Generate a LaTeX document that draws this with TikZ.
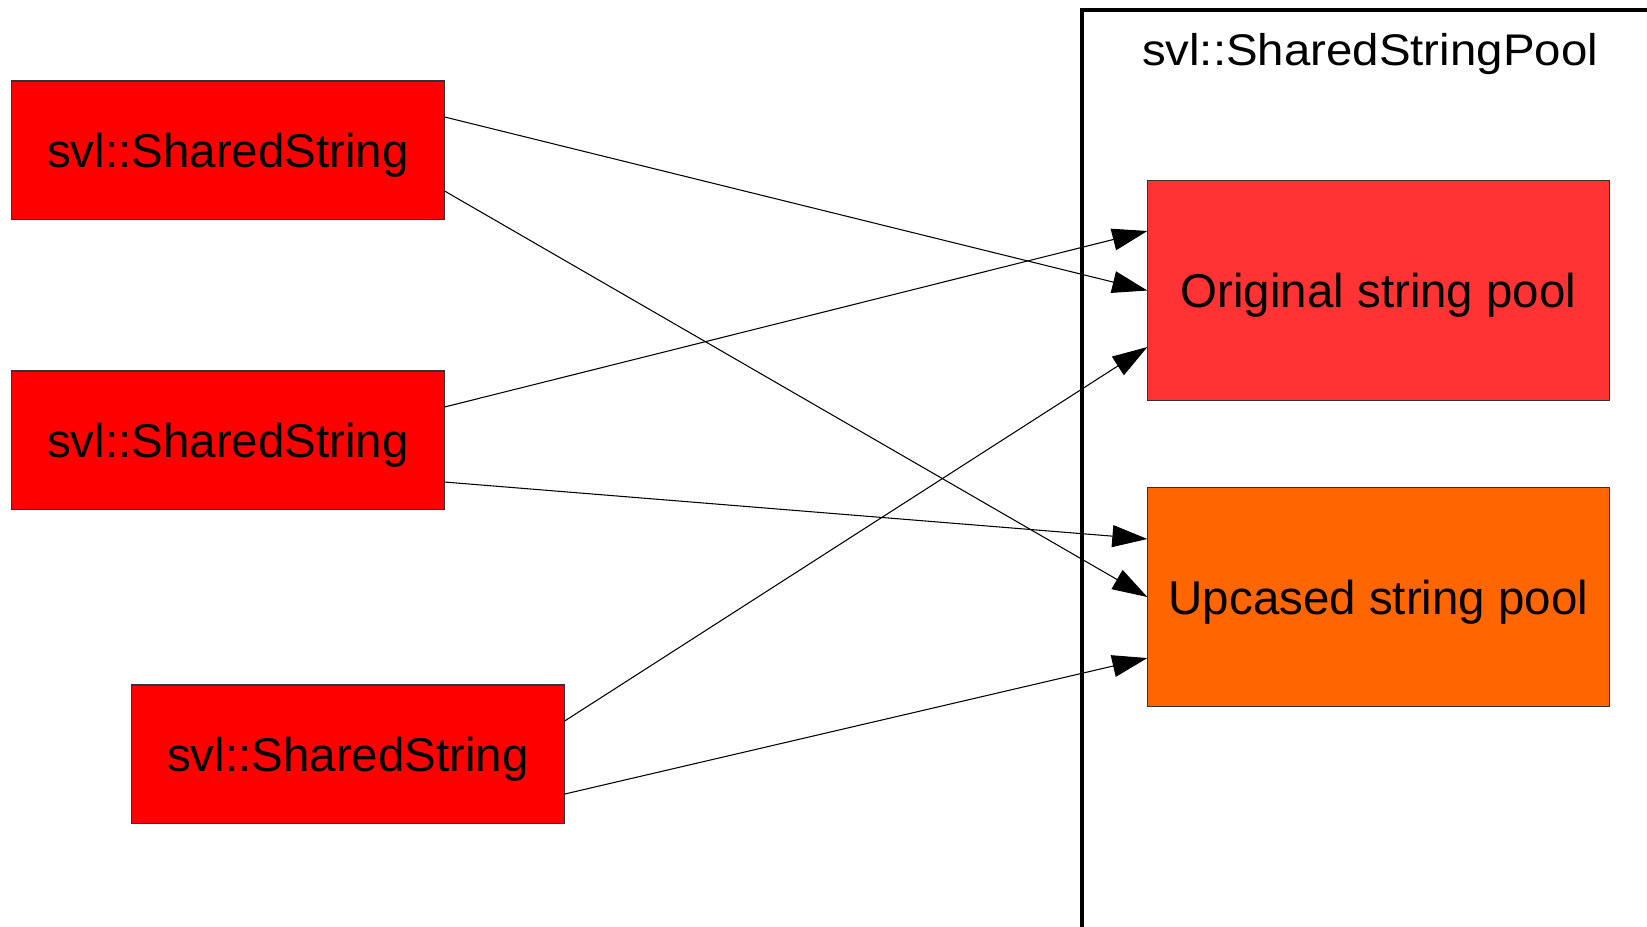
\documentclass[tikz,border=0pt]{standalone}
\usepackage{fontspec}
\setmainfont{Liberation Sans}
\usetikzlibrary{arrows.meta}

\definecolor{strred}{HTML}{FF0000}
\definecolor{origred}{HTML}{FF3333}
\definecolor{upcorange}{HTML}{FF6600}

\tikzset{
  sstring/.style={draw=black!80, line width=0.3pt, fill=strred,
    minimum width=4.32cm, minimum height=1.38cm, inner sep=0pt, text depth=0pt,
    font=\fontsize{13.5}{16}\selectfont},
  pool/.style={draw=black!80, line width=0.3pt,
    minimum width=4.61cm, minimum height=2.19cm, inner sep=0pt, text depth=0pt,
    font=\fontsize{13.5}{16}\selectfont},
  ref/.style={-{Triangle[length=3.5mm,width=2.2mm]}, line width=0.3pt},
}

\begin{document}
\begin{tikzpicture}[x=0.01cm, y=-0.01cm]
  \useasboundingbox (0,0) rectangle (1647,926);

  \draw[line width=0.94pt] (1082,940) -- (1082,10) -- (1660,10);
  \node[anchor=base, inner sep=0pt] (title) at (1370,65)
    {\scalebox{1.07}[1]{\fontsize{12.6}{15}\selectfont svl::SharedStringPool}};

  \node[pool, fill=origred] (orig) at (1378.5,290.5) {Original string pool};
  \node[pool, fill=upcorange] (upc) at (1378.5,597) {Upcased string pool};

  \node[sstring] (s1) at (228,150) {svl::SharedString};
  \node[sstring] (s2) at (228,440) {svl::SharedString};
  \node[sstring] (s3) at (348,754) {svl::SharedString};

  \draw[ref] ([yshift=3.3mm]s1.east) -- (orig.west);
  \draw[ref] ([yshift=-4.1mm]s1.east) -- (upc.west);
  \draw[ref] ([yshift=3.3mm]s2.east) -- ([yshift=5.95mm]orig.west);
  \draw[ref] ([yshift=-4.2mm]s2.east) -- ([yshift=5.8mm]upc.west);
  \draw[ref] ([yshift=3.3mm]s3.east) -- ([yshift=-5.65mm]orig.west);
  \draw[ref] ([yshift=-4.0mm]s3.east) -- ([yshift=-6.1mm]upc.west);
\end{tikzpicture}
\end{document}
